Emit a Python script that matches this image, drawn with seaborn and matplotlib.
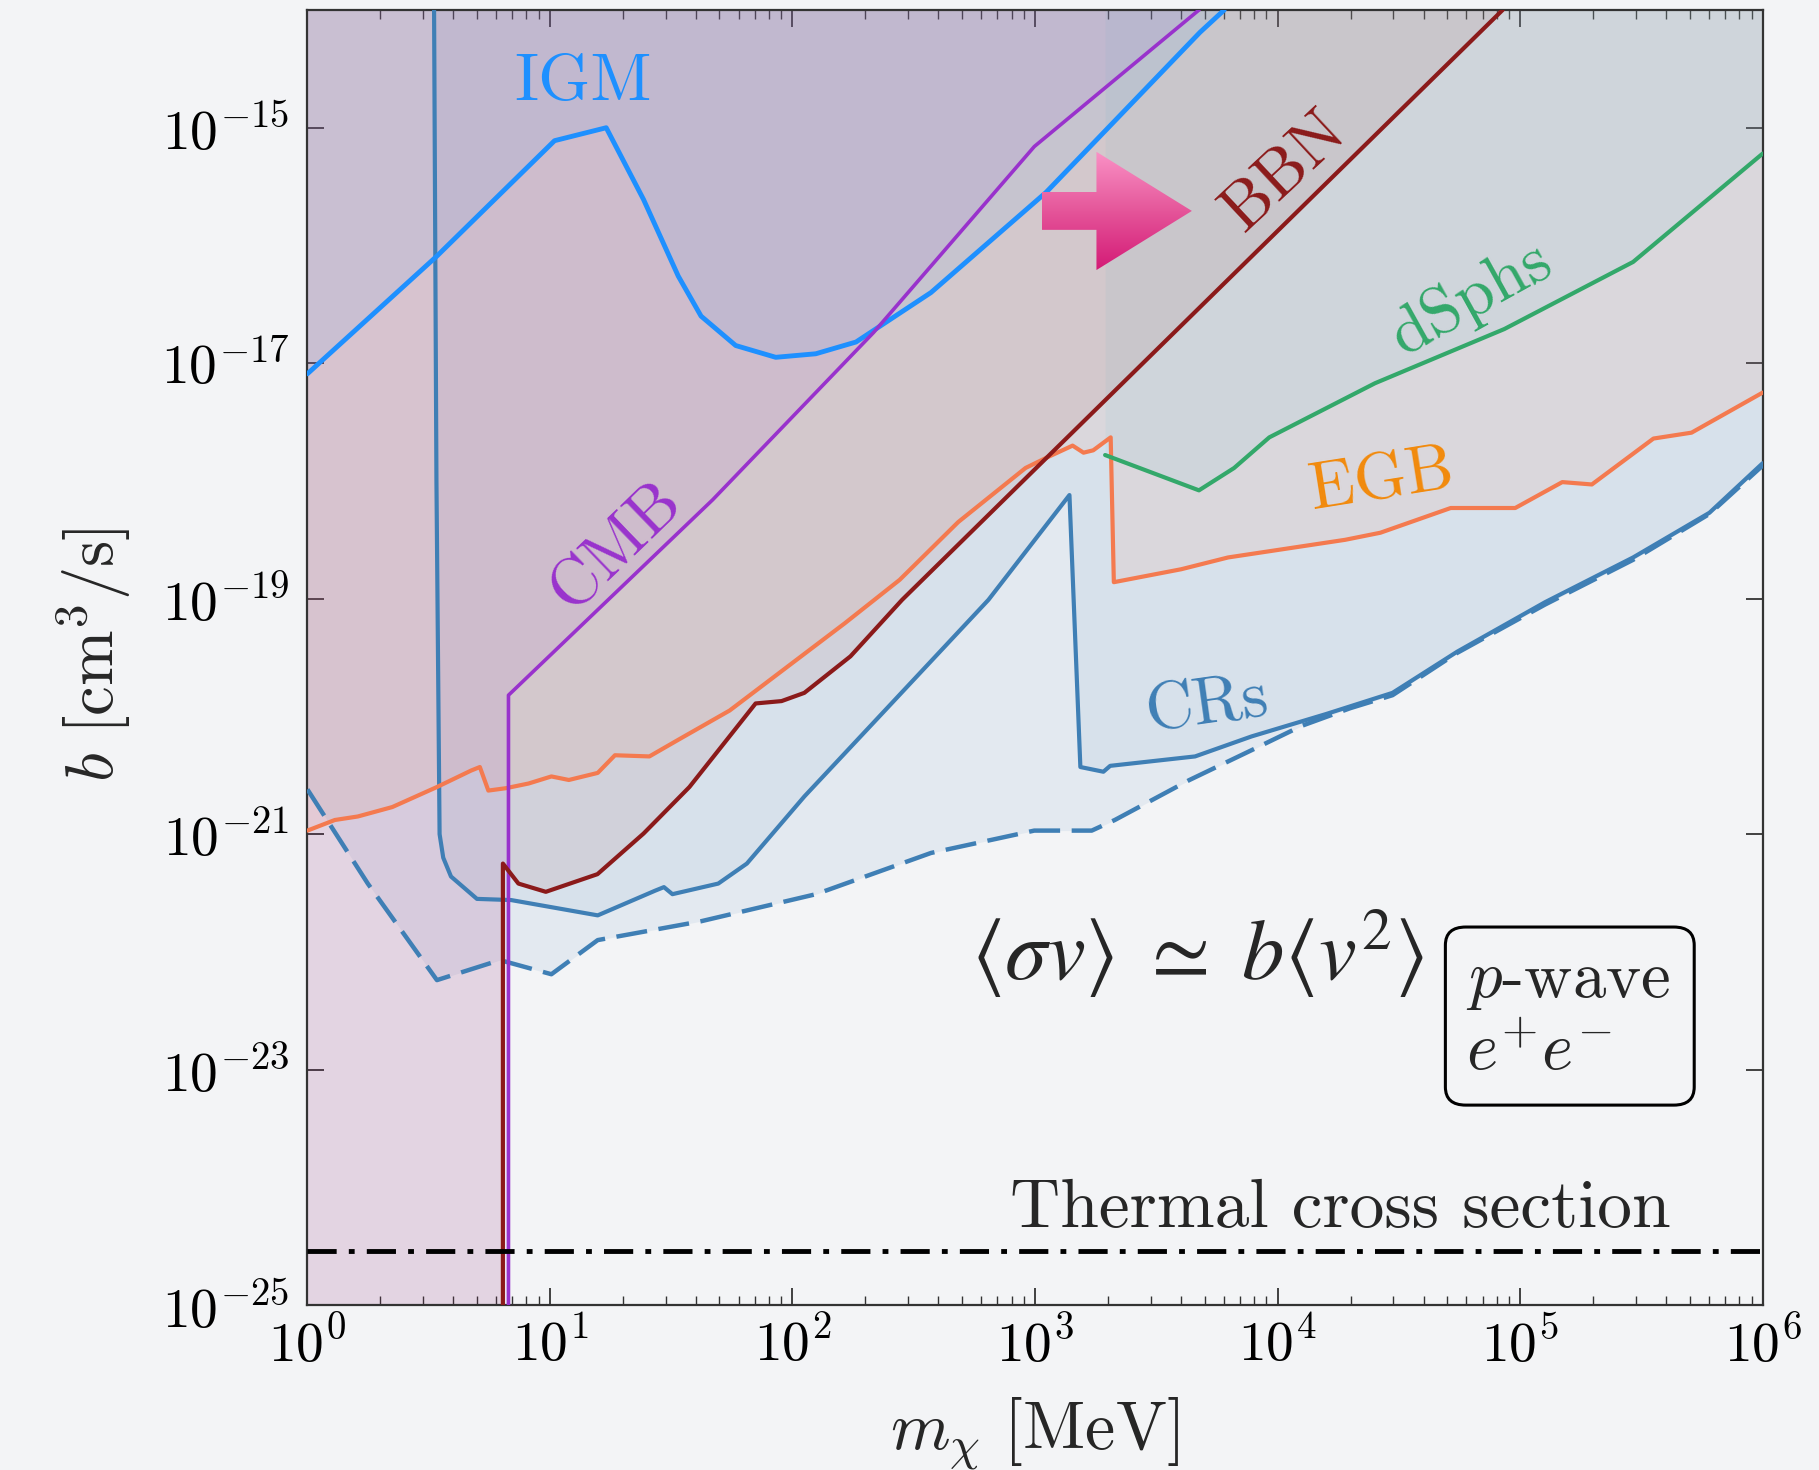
import numpy as np
import pandas as pd
import matplotlib
matplotlib.use("Agg")
import matplotlib.pyplot as plt
import seaborn as sns
from matplotlib.patches import Polygon, FancyBboxPatch
from matplotlib.colors import LinearSegmentedColormap
from matplotlib.ticker import LogLocator, FixedLocator, NullLocator, LogFormatterSciNotation

# ---------------- data: log10(m_chi / MeV), log10(b / cm^3 s^-1) ----------------
igm_logm = [0.0, 0.534, 1.019, 1.232, 1.386, 1.529, 1.623, 1.766, 1.931, 2.096, 2.262, 2.571, 3.045, 3.68, 3.78]
igm_logb = [-17.09, -16.09, -15.11, -15.00, -15.61, -16.26, -16.60, -16.85, -16.95, -16.92, -16.82, -16.40, -15.55, -14.19, -14.0]

cmb_logm = [0.829, 0.829, 1.671, 2.334, 2.997, 3.676]
cmb_logb = [-25.5, -19.82, -18.16, -16.74, -15.16, -14.0]

bbn_logm = [0.806, 0.806, 0.87, 0.983, 1.196, 1.386, 1.575, 1.848, 1.955, 2.049, 2.239, 2.452, 3.0, 4.928]
bbn_logb = [-25.5, -21.25, -21.42, -21.49, -21.34, -20.995, -20.60, -19.89, -19.87, -19.80, -19.49, -19.01, -17.90, -14.0]

dsph_logm = [3.289, 3.676, 3.821, 3.966, 4.402, 4.935, 5.466, 6.0]
dsph_logb = [-17.78, -18.08, -17.89, -17.63, -17.17, -16.71, -16.14, -15.22]

egb_logm = [0.0, 0.113, 0.208, 0.350, 0.534, 0.675, 0.711, 0.746, 0.818, 0.912, 1.006, 1.078, 1.197,
            1.268, 1.410, 1.528, 1.741, 1.978, 2.215, 2.442, 2.683, 2.961, 3.05, 3.155, 3.20, 3.24,
            3.312, 3.325, 3.603, 3.796, 4.279, 4.424, 4.714, 4.98, 5.174, 5.296, 5.55, 5.707, 6.0]
egb_logb = [-20.97, -20.88, -20.85, -20.77, -20.60, -20.46, -20.43, -20.63, -20.61, -20.57, -20.51, -20.54, -20.48,
            -20.33, -20.34, -20.20, -19.95, -19.58, -19.21, -18.84, -18.35, -17.89, -17.80, -17.70, -17.76, -17.74,
            -17.63, -18.86, -18.75, -18.65, -18.50, -18.44, -18.23, -18.23, -18.01, -18.03, -17.64, -17.59, -17.25]

crs_logm = [0.522, 0.532, 0.545, 0.56, 0.592, 0.699, 0.840, 1.197, 1.434, 1.47, 1.505, 1.694, 1.812, 2.049,
            2.381, 2.808, 3.142, 3.187, 3.282, 3.31, 3.660, 3.893, 4.2, 4.474, 4.741, 5.103, 5.466, 5.781, 6.0]
crs_logb = [-13.9, -18.0, -21.0, -21.2, -21.36, -21.55, -21.56, -21.69, -21.48, -21.45, -21.51, -21.42, -21.25, -20.68,
            -19.95, -19.01, -18.12, -20.43, -20.47, -20.42, -20.34, -20.17, -19.98, -19.80, -19.45, -19.03, -18.65, -18.27, -17.85]

crd_logm = [0.0, 0.249, 0.534, 0.794, 1.006, 1.197, 1.623, 2.097, 2.571, 2.997, 3.234, 3.329, 3.637, 3.9,
            4.1, 4.3, 4.474, 4.741, 5.103, 5.466, 5.781, 6.0]
crd_logb = [-20.62, -21.42, -22.24, -22.07, -22.19, -21.90, -21.74, -21.51, -21.16, -20.97, -20.97, -20.88, -20.54, -20.28,
            -20.08, -19.93, -19.82, -19.46, -19.05, -18.67, -18.28, -17.87]

thermal_b = 2.9e-25

x_ticks = [1e0, 1e1, 1e2, 1e3, 1e4, 1e5, 1e6]
y_ticks = [1e-25, 1e-23, 1e-21, 1e-19, 1e-17, 1e-15]

# ---------------- style ----------------
BG = "#f3f4f6"
IGM_C = "#1e90ff"
CMB_C = "#9932cc"
BBN_C = "#8b1a1a"
DSPH_C = "#33a86a"
EGB_C = "#f47a4f"
EGB_T = "#f28a0c"
CRS_C = "#3f7fb5"

sns.set_theme(style="ticks")
plt.rcParams.update({
    "font.family": ["cmr10", "DejaVu Serif"],
    "mathtext.fontset": "cm",
    "axes.formatter.use_mathtext": True,
    "figure.facecolor": BG,
    "axes.facecolor": BG,
    "savefig.facecolor": BG,
    "axes.edgecolor": "#333333",
    "axes.linewidth": 1.6,
})

fig = plt.figure(figsize=(18.19, 14.70), dpi=100)
ax = fig.add_axes([0.169, 0.1122, 0.800, 0.881])
ax.set_xscale("log")
ax.set_yscale("log")
ax.set_xlim(1, 1e6)
ax.set_ylim(1e-25, 1e-14)

TOP = 3e-14


def to_lin(logm, logb):
    return 10.0 ** np.asarray(logm, float), 10.0 ** np.asarray(logb, float)


def fill_above(logm, logb, color, alpha, left_edge=False):
    m, b = to_lin(logm, logb)
    if left_edge:
        m = np.concatenate([[1.0], m])
        b = np.concatenate([[b[0]], b])
    ax.fill_between(m, b, TOP, color=color, alpha=alpha, lw=0, zorder=1)


def draw(logm, logb, color, lw, **kw):
    m, b = to_lin(logm, logb)
    df = pd.DataFrame({"m": m, "b": b})
    sns.lineplot(data=df, x="m", y="b", sort=False, estimator=None, color=color,
                 lw=lw, ax=ax, zorder=3, **kw)


# fills (excluded regions above each curve)
fill_above(crd_logm, crd_logb, "#4682b4", 0.09)
fill_above(crs_logm, crs_logb, "#4682b4", 0.07)
fill_above(egb_logm, egb_logb, "#ff7f50", 0.095)
fill_above(dsph_logm, dsph_logb, "#64c8d7", 0.085)
fill_above(bbn_logm, bbn_logb, "#8b1a1a", 0.08, left_edge=True)
fill_above(cmb_logm, cmb_logb, "#9932cc", 0.075, left_edge=True)
fill_above(igm_logm, igm_logb, "#1e90ff", 0.07)

# lines
draw(crd_logm, crd_logb, CRS_C, 3.2, linestyle=(0, (7, 2.6)))
draw(crs_logm, crs_logb, CRS_C, 3.0)
draw(egb_logm, egb_logb, EGB_C, 3.0)
draw(dsph_logm, dsph_logb, DSPH_C, 3.0)
draw(igm_logm, igm_logb, IGM_C, 3.5)
draw(cmb_logm, cmb_logb, CMB_C, 2.6)
draw(bbn_logm, bbn_logb, BBN_C, 3.0)

ax.axhline(thermal_b, color="black", lw=3.5, ls=(0, (6, 2.5, 1.2, 2.5)), zorder=4)

# ---------------- axes ----------------
ax.xaxis.set_major_locator(FixedLocator(x_ticks))
ax.xaxis.set_minor_locator(LogLocator(base=10, subs=np.arange(2, 10), numticks=100))
ax.yaxis.set_major_locator(FixedLocator(y_ticks))
ax.yaxis.set_minor_locator(NullLocator())
ax.xaxis.set_major_formatter(LogFormatterSciNotation())
ax.yaxis.set_major_formatter(LogFormatterSciNotation())
ax.tick_params(which="both", direction="in", top=True, right=True, colors="#333333",
               labelcolor="black")
ax.tick_params(which="major", length=12, width=1.3, labelsize=40)
ax.tick_params(axis="x", which="major", pad=9)
ax.tick_params(axis="y", which="major", pad=13)
ax.tick_params(which="minor", length=6.5, width=1.0)

ax.set_xlabel(r"$m_\chi\ [\mathrm{MeV}]$", fontsize=49)
ax.set_ylabel(r"$b\ [\mathrm{cm}^3/\mathrm{s}]$", fontsize=48)
ax.xaxis.set_label_coords(0.5, -0.070)
ax.yaxis.set_label_coords(-0.12, 0.502)

# ---------------- labels ----------------
lab = dict(family="cmr10", fontsize=48, ha="center", va="center", rotation_mode="anchor", zorder=6)
ax.text(10 ** 1.137, 10 ** -14.62, "IGM", color=IGM_C, **lab)
ax.text(10 ** 1.274, 10 ** -18.56, "CMB", color=CMB_C, rotation=44, **lab)
ax.text(10 ** 4.03, 10 ** -15.37, "BBN", color=BBN_C, rotation=43, **lab)
ax.text(10 ** 4.80, 10 ** -16.45, "dSphs", color=DSPH_C, rotation=29, **lab)
ax.text(10 ** 4.43, 10 ** -18.0, "EGB", color=EGB_T, rotation=9, **lab)
ax.text(10 ** 3.71, 10 ** -19.90, "CRs", color=CRS_C, rotation=8, **lab)

ax.text(10 ** 5.62, 10 ** -24.34, "Thermal cross section", family="cmr10", fontsize=50,
        ha="right", va="baseline", zorder=6)

ax.text(0.6117, 0.271, r"$\langle\sigma v\rangle\ \simeq\ b\langle v^2\rangle$", math_fontfamily="stix",
        fontsize=61, ha="center", va="center", transform=ax.transAxes, zorder=6)

box = FancyBboxPatch((0.782, 0.1544), 0.171, 0.1375, boxstyle="round,pad=0,rounding_size=0.014",
                     transform=ax.transAxes, fc="none", ec="black", lw=2.2, zorder=6)
ax.add_patch(box)
ax.text(0.796, 0.2378, r"$p$-wave", fontsize=48, ha="left", va="baseline", transform=ax.transAxes, zorder=6)
ax.text(0.796, 0.1815, r"$e^{+}e^{-}$", fontsize=48, ha="left", va="baseline", transform=ax.transAxes, zorder=6)

# ---------------- gradient arrow annotation ----------------
pos = ax.get_position()
ax_x0, ax_x1, ax_y0, ax_y1 = 0.5047, 0.6078, 0.7992, 0.8905
arr_ax = fig.add_axes([pos.x0 + ax_x0 * pos.width, pos.y0 + ax_y0 * pos.height,
                       (ax_x1 - ax_x0) * pos.width, (ax_y1 - ax_y0) * pos.height])
arr_ax.set_xlim(0, 1)
arr_ax.set_ylim(0, 1)
arr_ax.axis("off")
arrow_poly = Polygon([(0, 0.34), (0.364, 0.34), (0.364, 0.0), (1.0, 0.5), (0.364, 1.0), (0.364, 0.66), (0, 0.66)],
                     closed=True, fc="none", ec="none", transform=arr_ax.transData)
arr_ax.add_patch(arrow_poly)
cmap = LinearSegmentedColormap.from_list("pinkgrad", ["#d41a76", "#e5569a", "#fa92c6"])
grad = np.linspace(0, 1, 256).reshape(-1, 1)
im = arr_ax.imshow(grad, cmap=cmap, origin="lower", extent=[0, 1, 0, 1], aspect="auto")
im.set_clip_path(arrow_poly)

fig.savefig("out.png", dpi=100, facecolor=BG)
